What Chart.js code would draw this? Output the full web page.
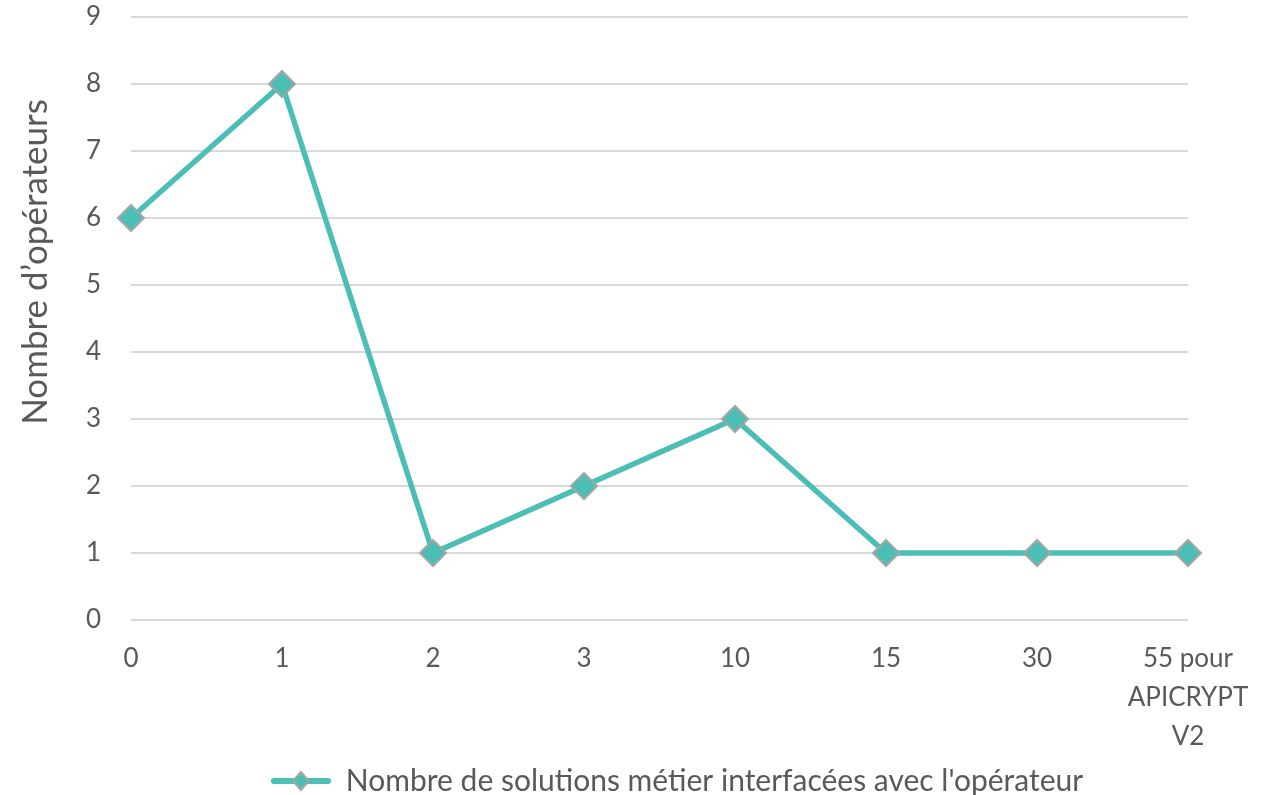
<!DOCTYPE html>
<html>
<head>
<meta charset="utf-8">
<script src="https://cdn.jsdelivr.net/npm/chart.js@4.4.1/dist/chart.umd.min.js"></script>
<style>
  html, body { margin: 0; padding: 0; background: #fff; }
  #wrap { width: 1281px; height: 795px; position: relative; }
</style>
</head>
<body>
<div id="wrap"><canvas id="chart"></canvas></div>
<script>
const categories = ['0', '1', '2', '3', '10', '15', '30', ['55 pour', 'APICRYPT', 'V2']];
const operateurs = [6, 8, 1, 2, 3, 1, 1, 1];
const seriesLabel = "Nombre de solutions métier interfacées avec l'opérateur";
const yTitle = 'Nombre d’opérateurs';

const teal = '#4BBFB6';
const markerBorder = '#A5A5A5';
const textColor = '#595959';
const fontFamily = "Lato, 'Open Sans', sans-serif";

// legend symbol: line with diamond
const legendIcon = (() => {
    const c = document.createElement('canvas');
    c.width = 60; c.height = 24;
    const g = c.getContext('2d');
    g.strokeStyle = teal;
    g.lineWidth = 6;
    g.lineCap = 'round';
    g.beginPath(); g.moveTo(3, 12); g.lineTo(57, 12); g.stroke();
    g.fillStyle = teal;
    g.strokeStyle = markerBorder;
    g.lineWidth = 2;
    g.beginPath();
    g.moveTo(30, 3); g.lineTo(38, 12); g.lineTo(30, 21); g.lineTo(22, 12); g.closePath();
    g.fill(); g.stroke();
    return c;
})();

const yTitlePlugin = {
    id: 'yTitle',
    afterLayout(chart) {
        // legend in the reference sits a bit right of centre
        chart.legend.left += 83;
        chart.legend.right += 83;
    },
    afterDraw(chart) {
        const ctx = chart.ctx;
        ctx.save();
        ctx.translate(36, 262);
        ctx.rotate(-Math.PI / 2);
        ctx.font = '35px ' + fontFamily;
        ctx.fillStyle = textColor;
        ctx.textAlign = 'center';
        ctx.textBaseline = 'middle';
        ctx.fillText(yTitle, 0, 0);
        ctx.restore();
    }
};

new Chart(document.getElementById('chart').getContext('2d'), {
    type: 'line',
    data: {
        labels: categories,
        datasets: [{
            label: seriesLabel,
            data: operateurs,
            borderColor: teal,
            backgroundColor: teal,
            borderWidth: 5.5,
            tension: 0,
            pointStyle: 'rectRot',
            pointRadius: 13,
            pointHoverRadius: 13,
            pointBackgroundColor: teal,
            pointBorderColor: markerBorder,
            pointBorderWidth: 2
        }]
    },
    options: {
        responsive: true,
        maintainAspectRatio: false,
        animation: false,
        layout: { padding: { top: 17, right: 93, left: 0, bottom: -11 } },
        plugins: {
            legend: {
                position: 'bottom',
                labels: {
                    color: textColor,
                    font: { family: fontFamily, size: 30 },
                    usePointStyle: true,
                    pointStyleWidth: 60,
                    boxHeight: 24,
                    padding: 8,
                    generateLabels: (chart) => [{
                        text: seriesLabel,
                        pointStyle: legendIcon,
                        fillStyle: teal,
                        strokeStyle: teal,
                        lineWidth: 0,
                        fontColor: textColor,
                        datasetIndex: 0
                    }]
                }
            },
            tooltip: { enabled: false }
        },
        scales: {
            x: {
                offset: false,
                grid: { display: false },
                border: { display: false },
                ticks: {
                    color: textColor,
                    font: { family: fontFamily, size: 26, lineHeight: 1.5 },
                    padding: 11,
                    maxRotation: 0,
                    autoSkip: false
                },
                afterFit: (s) => { s.height = 138; }
            },
            y: {
                min: 0,
                max: 9,
                grid: { color: '#D9D9D9', lineWidth: 2, drawTicks: false },
                border: { display: false },
                ticks: {
                    stepSize: 1,
                    color: textColor,
                    font: { family: fontFamily, size: 26 },
                    padding: 30
                },
                afterFit: (s) => { s.width = 131; s.paddingTop = 0; }
            }
        }
    },
    plugins: [yTitlePlugin]
});
</script>
</body>
</html>
